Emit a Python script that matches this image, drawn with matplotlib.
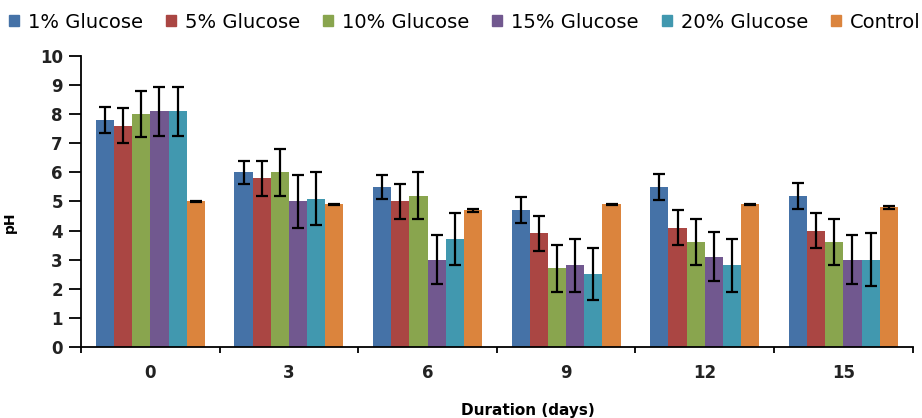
import numpy as np
import matplotlib
matplotlib.use('Agg')
import matplotlib.pyplot as plt
from matplotlib.patches import Patch

plt.rcParams['font.family'] = ['DejaVu Sans']

days = ['0', '3', '6', '9', '12', '15']
series = ['1% Glucose', '5% Glucose', '10% Glucose', '15% Glucose', '20% Glucose', 'Control']
colors = ['#4572A7', '#AA4643', '#89A54E', '#71588F', '#4198AF', '#DB843D']

# pH means per series (one value per sampling day)
g1 = [7.8, 6.0, 5.5, 4.7, 5.5, 5.2]
g5 = [7.6, 5.8, 5.0, 3.9, 4.1, 4.0]
g10 = [8.0, 6.0, 5.2, 2.7, 3.6, 3.6]
g15 = [8.1, 5.0, 3.0, 2.8, 3.1, 3.0]
g20 = [8.1, 5.1, 3.7, 2.5, 2.8, 3.0]
ctrl = [5.0, 4.9, 4.7, 4.9, 4.9, 4.8]

# error bars
e1 = [0.45, 0.4, 0.4, 0.45, 0.45, 0.45]
e5 = [0.6, 0.6, 0.6, 0.6, 0.6, 0.6]
e10 = [0.8, 0.8, 0.8, 0.8, 0.8, 0.8]
e15 = [0.85, 0.9, 0.85, 0.9, 0.85, 0.85]
e20 = [0.85, 0.9, 0.9, 0.9, 0.9, 0.9]
ectrl = [0.03, 0.03, 0.05, 0.03, 0.03, 0.05]

values = [g1, g5, g10, g15, g20, ctrl]
errors = [e1, e5, e10, e15, e20, ectrl]

fig = plt.figure(figsize=(9.22, 4.18), dpi=100)
ax = fig.add_axes([0.0879, 0.170, 0.902, 0.696])

x = np.arange(len(days))
w = 0.131
for i, (vals, errs) in enumerate(zip(values, errors)):
    ax.bar(x + (i - 2.5) * w, vals, w, color=colors[i], label=series[i],
           yerr=errs, capsize=4.5,
           error_kw=dict(ecolor='black', elinewidth=1.6, capthick=1.6))

ax.set_xlim(-0.5, 5.5)
ax.set_ylim(0, 10)
ax.set_yticks(range(0, 11))
ax.set_xticks(x)
ax.set_xticklabels(days)
ax.set_xticks(np.arange(-0.5, 6, 1), minor=True)

for s in ['top', 'right']:
    ax.spines[s].set_visible(False)
for s in ['left', 'bottom']:
    ax.spines[s].set_linewidth(1.3)

ax.tick_params(axis='y', direction='out', length=9, width=1.3, pad=4,
               labelsize=12, labelcolor='#222222')
ax.tick_params(axis='x', which='major', length=0, pad=12,
               labelsize=12, labelcolor='#222222')
ax.tick_params(axis='x', which='minor', direction='out', length=4.5, width=1.3)
for lab in ax.get_xticklabels() + ax.get_yticklabels():
    lab.set_fontweight('bold')

fig.text(0.011, 0.469, 'pH', rotation=90, fontsize=10, fontweight='bold',
         ha='center', va='center')
fig.text(0.573, 0.019, 'Duration (days)', fontsize=11, fontweight='bold',
         ha='center', va='center')

handles = [Patch(color=c) for c in colors]
fig.legend(handles, series, loc='center left', bbox_to_anchor=(0.0098, 0.947),
           ncol=6, frameon=False, fontsize=14, handlelength=0.5, handleheight=0.5,
           handletextpad=0.46, columnspacing=1.2, borderpad=0, borderaxespad=0)

fig.savefig('out.png', dpi=100)
